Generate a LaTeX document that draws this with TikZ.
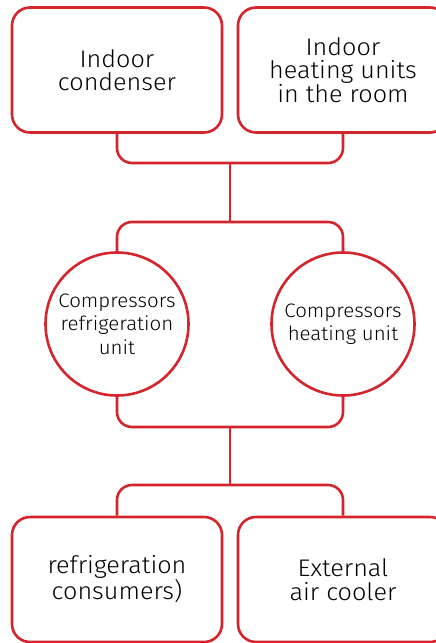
\documentclass[tikz,border=0pt]{standalone}
\usepackage{fontspec}
\setmainfont{Fira Sans Light}[FakeStretch=1.05]
\usetikzlibrary{positioning}
\definecolor{myred}{RGB}{212, 36, 44}

\begin{document}
\begin{tikzpicture}[x=1pt,y=1pt,line width=2.6pt]
    % estilos
    \tikzstyle{unit}=[draw=myred,rounded corners=18pt,minimum width=210pt,minimum height=125pt,align=center,font=\fontsize{24}{23.5}\selectfont]
    \tikzstyle{comp}=[draw=myred,circle,minimum size=143pt,inner sep=0pt,align=center,font=\fontsize{19.5}{23.5}\selectfont]
    \tikzstyle{link}=[draw=myred,rounded corners=15pt]
    \useasboundingbox (0,0) rectangle (436,-643);
    \node[unit] (cond) at (117,-70) {Indoor\\condenser};
    \node[unit] (heat) at (343,-70) {Indoor\\heating units\\in the room};
    \node[comp] (crf) at (117,-324) {Compressors\\refrigeration\\unit};
    \node[comp] (cht) at (343,-324) {Compressors\\heating unit};
    \node[unit] (cons) at (117,-579.5) {refrigeration\\consumers)};
    \node[unit] (cool) at (343,-579.5) {External\\air cooler};
    \coordinate (j1) at (230,-163);
    \coordinate (j2) at (230,-222);
    \coordinate (j3) at (230,-427);
    \coordinate (j4) at (230,-485);

    \path[link] (cond.south) |- (j1) -| (heat.south);
    \path[link] (crf.north) |- (j2) -| (cht.north);
    \path[link] (crf.south) |- (j3) -| (cht.south);
    \path[link] (cons.north) |- (j4) -| (cool.north);
    \draw[myred] (j1) -- (j2);
    \draw[myred] (j3) -- (j4);
  \end{tikzpicture}
\end{document}
